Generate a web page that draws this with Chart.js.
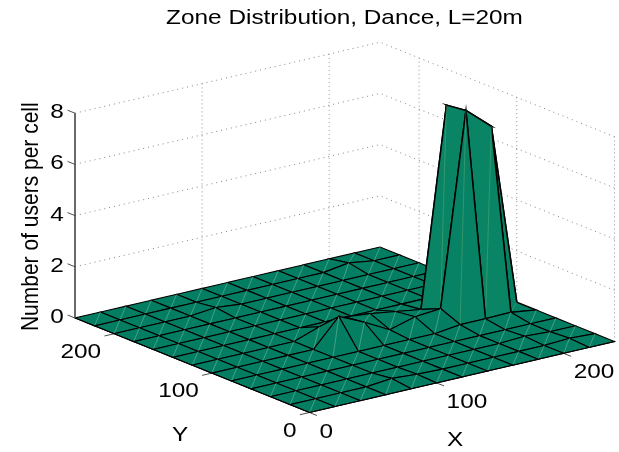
<!DOCTYPE html>
<html lang="en">
<head>
    <meta charset="UTF-8">
    <title>Zone Distribution, Dance, L=20m</title>
    <script src="https://cdn.jsdelivr.net/npm/chart.js"></script>
    <style>
        body { margin: 0; background: #fff; }
        canvas { display: block; }
    </style>
</head>
<body>
    <canvas id="surface" width="619" height="452"></canvas>
    <script>
        // Grid positions in metres, 20m cells
        const gridX = [0, 20, 40, 60, 80, 100, 120, 140, 160, 180, 200, 220, 240];
        const gridY = [0, 20, 40, 60, 80, 100, 120, 140, 160, 180, 200, 220, 240];

        // Users per cell, one row per gridY value
        const row0  = [0, 0, 0, 0, 0, 0, 0, 0, 0, 0, 0, 0, 0];
        const row1  = [0, 0, 0, 0, 0.1, 0.03, 0, 0, 0, 0, 0, 0.05, 0];
        const row2  = [0, 0, 0, 0, 0, 0, 0, 0, 0, 0, 0.05, 0, 0];
        const row3  = [0, 0, 0, 0, 0, 0, 0, 0, 0, 0, 0, 0, 0];
        const row4  = [0, 0, 0, 0, 0, 0, 0, 0, 0, 0.12, 0.12, 0.14, 0];
        const row5  = [0, 0, 0, 0, 0, 1.06, 0.6, 0.08, 0.35, 0.44, 7.95, 7.1, 0];
        const row6  = [0, 0, 0, 0, 0, 0.35, 0.5, 0.4, 0.25, 0.1, 7.85, 7, 0];
        const row7  = [0, 0, 0, 0, 0, 0, 0, 0, 0, 0, 0, 0, 0];
        const row8  = [0, 0, 0, 0, 0, 0, 0, 0, 0, 0, 0, 0, 0];
        const row9  = [0, 0, 0, 0, 0, 0, 0, 0, 0, 0, 0, 0, 0];
        const row10 = [0, 0, 0, 0, 0.1, 0, 0, 0, 0, 0, 0, 0, 0];
        const row11 = [0, 0, 0, 0, 0, 0, 0, 0, 0, 0, 0.15, 0, 0];
        const row12 = [0, 0, 0, 0, 0, 0, 0, 0, 0, 0, 0, 0, 0];
        const users = [row0, row1, row2, row3, row4, row5, row6, row7, row8, row9, row10, row11, row12];

        const xTicks = [0, 100, 200];
        const yTicks = [0, 100, 200];
        const zTicks = [0, 2, 4, 6, 8];
        const axisMax = 240;
        const zMax = 8;

        // View: where the corner x=0,y=0,z=0 lands and what one unit of each axis moves it by
        const view = { ox: 309.5, oy: 412.5, xx: 305 / 240, xy: -71 / 240, yx: -234.5 / 240, yy: -94.5 / 240, zy: -25.6 };

        function project(x, y, z) {
            return {
                x: view.ox + view.xx * x + view.yx * y,
                y: view.oy + view.xy * x + view.yy * y + view.zy * z
            };
        }

        function lineSet(points, color, width, dash) {
            return {
                data: points, showLine: true, fill: false, pointRadius: 0, tension: 0,
                borderColor: color, borderWidth: width, borderDash: dash || [], clip: false
            };
        }

        // Slightly lighter green for the tall faces
        function cellColor(mean) {
            const t = Math.min(mean / 4, 1);
            const r = Math.round(4 + 5 * t), g = Math.round(126 + 7 * t), b = Math.round(98 + 4 * t);
            return `rgb(${r},${g},${b})`;
        }

        const datasets = [];

        // Axis lines and ticks go on top of everything
        const tickLen = 0.38;
        datasets.push(lineSet([project(0, axisMax, 0), project(0, axisMax, zMax)], '#444', 1.6));
        datasets.push(lineSet([project(0, axisMax, 0), project(0, 0, 0), project(axisMax, 0, 0)], '#000', 1));
        xTicks.forEach(t => datasets.push(lineSet([project(t, 0, 0), project(t, -20 * tickLen, 0)], '#222', 0.8)));
        yTicks.forEach(t => datasets.push(lineSet([project(0, t, 0), project(-20 * tickLen, t, 0)], '#222', 0.8)));
        zTicks.forEach(t => datasets.push(lineSet([project(0, axisMax, t), project(0, axisMax + 20 * tickLen, t)], '#222', 0.8)));

        // Surface cells, front to back (Chart.js paints the last dataset first)
        for (let j = 0; j < gridY.length - 1; j++) {
            for (let i = 0; i < gridX.length - 1; i++) {
                const a = project(gridX[i], gridY[j], users[j][i]);
                const b = project(gridX[i + 1], gridY[j], users[j][i + 1]);
                const c = project(gridX[i + 1], gridY[j + 1], users[j + 1][i + 1]);
                const d = project(gridX[i], gridY[j + 1], users[j + 1][i]);
                const mean = (users[j][i] + users[j][i + 1] + users[j + 1][i + 1] + users[j + 1][i]) / 4;
                // pale seam where the renderer split the quad in two
                datasets.push(lineSet([a, c], mean > 1 ? 'rgba(130,190,120,0.5)' : 'rgba(170,215,190,0.55)', 0.7));
                const cell = lineSet([a, b, c, d, a], '#000', mean > 1 ? 1.5 : 1.1);
                cell.fill = 'shape';
                cell.backgroundColor = cellColor(mean);
                datasets.push(cell);
            }
        }

        // Dotted grid on the two back walls
        zTicks.filter(t => t > 0).forEach(t => {
            datasets.push(lineSet([project(0, axisMax, t), project(axisMax, axisMax, t), project(axisMax, 0, t)], '#777', 0.9, [1, 4]));
        });
        xTicks.filter(t => t > 0).forEach(t => {
            datasets.push(lineSet([project(t, axisMax, 0), project(t, axisMax, zMax)], '#888', 0.9, [1, 3]));
        });
        yTicks.forEach(t => {
            datasets.push(lineSet([project(axisMax, t, 0), project(axisMax, t, zMax)], '#888', 0.9, [1, 3]));
        });

        // The whole reference is stretched sideways a little, rotated text included
        const stretchX = 1.16;

        function label(ctx, text, x, y, align, angle) {
            ctx.save();
            ctx.translate(x, y);
            ctx.scale(stretchX, 1);
            if (angle) ctx.rotate(angle);
            ctx.font = '21px "Liberation Sans", Arial, sans-serif';
            ctx.fillStyle = '#000';
            ctx.textAlign = align;
            ctx.textBaseline = 'alphabetic';
            ctx.fillText(text, 0, 0);
            ctx.restore();
        }

        const textPlugin = {
            id: 'surfaceText',
            afterDraw(chart) {
                const ctx = chart.ctx;
                const sx = chart.scales.x, sy = chart.scales.y;
                const at = (x, y, z) => {
                    const p = project(x, y, z);
                    return { x: sx.getPixelForValue(p.x), y: sy.getPixelForValue(p.y) };
                };
                label(ctx, 'Zone Distribution, Dance, L=20m', 344.5, 24, 'center');
                label(ctx, 'Number of users per cell', 38.3, 216.7, 'center', -Math.PI / 2);
                label(ctx, 'X', 455, 446, 'center');
                label(ctx, 'Y', 180, 440.7, 'center');
                zTicks.forEach(t => {
                    const p = at(0, axisMax, t);
                    label(ctx, String(t), p.x - 18, p.y + 5, 'center');
                });
                xTicks.forEach(t => {
                    const p = at(t, 0, 0);
                    label(ctx, String(t), p.x + 10, p.y + 25, 'left');
                });
                yTicks.forEach(t => {
                    const p = at(0, t, 0);
                    label(ctx, String(t), p.x - 13, p.y + 24, 'right');
                });
            }
        };

        new Chart(document.getElementById('surface').getContext('2d'), {
            type: 'scatter',
            data: { datasets: datasets },
            options: {
                responsive: false,
                animation: false,
                events: [],
                layout: { padding: 0 },
                plugins: { legend: { display: false }, tooltip: { enabled: false }, title: { display: false } },
                scales: {
                    x: { type: 'linear', display: false, min: 0, max: 619 },
                    y: { type: 'linear', display: false, min: 0, max: 452, reverse: true }
                }
            },
            plugins: [textPlugin]
        });
    </script>
</body>
</html>
